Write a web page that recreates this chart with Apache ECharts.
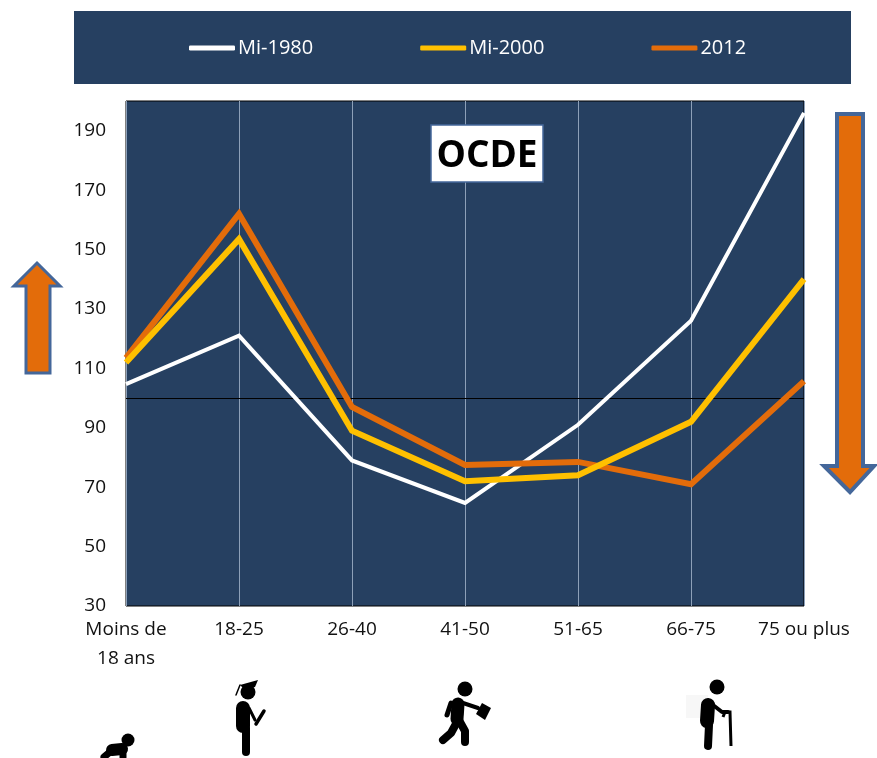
<!DOCTYPE html>
<html><head><meta charset="utf-8">
<style>html,body{margin:0;padding:0;background:#fff}#c{width:877px;height:758px}</style>
<script src="https://cdn.jsdelivr.net/npm/echarts@6/dist/echarts.min.js"></script>
</head><body><div id="c"></div>
<script>
const categories = ['Moins de\n18 ans','18-25','26-40','41-50','51-65','66-75','75 ou plus'];
const mi1980 = [104.7,121,79,64.7,91,126,196];
const mi2000 = [112,153.5,89,72,74,92,140];
const y2012 = [113.5,162,97,77.5,78.5,71,105.7];
const referenceLevel = 100;
const NAVY='#264061', ORANGE='#E36C0A', YELLOW='#FFC000', FONT='"Open Sans", sans-serif', EDGE='#44679A';
const stroke=(points,w)=>({type:'polyline',shape:{points},style:{stroke:'#000',lineWidth:w,lineCap:'round',lineJoin:'round',fill:null},z:5});
const dot=(cx,cy,r)=>({type:'circle',shape:{cx,cy,r},style:{fill:'#000'},z:5});
const poly=(points)=>({type:'polygon',shape:{points},style:{fill:'#000'},z:5});
const chart=echarts.init(document.getElementById('c'),null,{renderer:'canvas'});
chart.setOption({
  animation:false,
  backgroundColor:'#fff',
  legend:{left:184,top:33,itemWidth:46,itemHeight:5,itemGap:107,icon:'roundRect',
    textStyle:{color:'#fff',fontFamily:FONT,fontSize:20,padding:[0,0,0,-2]},
    data:['Mi-1980','Mi-2000','2012']},
  grid:{left:126,right:73,top:101,bottom:152,show:true,backgroundColor:NAVY,borderColor:'#000',borderWidth:1},
  xAxis:{type:'category',boundaryGap:false,data:categories,
    axisLine:{show:false},axisTick:{show:false},
    axisLabel:{color:'#111',fontFamily:FONT,fontSize:19,margin:9,lineHeight:29,interval:0,showMinLabel:true,showMaxLabel:true},
    splitLine:{show:true,lineStyle:{color:'#8da0b8',width:1}}},
  yAxis:{type:'value',min:30,max:200,interval:20,
    axisLine:{show:false},axisTick:{show:false},
    axisLabel:{color:'#111',fontFamily:FONT,fontSize:19,margin:20,padding:[2,0,0,0],showMaxLabel:false},
    splitLine:{show:false}},
  series:[
    {name:'Mi-1980',type:'line',data:mi1980,symbol:'none',z:3,lineStyle:{color:'#fff',width:4,join:'miter'},itemStyle:{color:'#fff'},
      markLine:{silent:true,symbol:'none',label:{show:false},lineStyle:{color:'#000',width:1,type:'solid'},data:[{yAxis:referenceLevel}],z:2}},
    {name:'Mi-2000',type:'line',data:mi2000,symbol:'none',z:4,lineStyle:{color:YELLOW,width:6,join:'miter'},itemStyle:{color:YELLOW}},
    {name:'2012',type:'line',data:y2012,symbol:'none',z:3,lineStyle:{color:ORANGE,width:6,join:'miter'},itemStyle:{color:ORANGE}}
  ],
  graphic:{elements:[
    {type:'rect',shape:{x:74,y:11,width:777,height:73},style:{fill:NAVY},z:-10,silent:true},
    {type:'rect',shape:{x:431,y:125,width:112,height:57},style:{fill:'#fff',stroke:EDGE,lineWidth:1.5},z:10},
    {type:'text',x:487,y:156,style:{text:'OCDE',fill:'#000',font:'bold 37px '+FONT,align:'center',verticalAlign:'middle'},z:11},
    {type:'polygon',shape:{points:[[37,263],[60,286],[50,286],[50,373],[26,373],[26,286],[14,286]]},style:{fill:ORANGE,stroke:EDGE,lineWidth:3},z:5},
    {type:'polygon',shape:{points:[[837,114],[863,114],[863,466],[874,466],[850,492],[824,466],[837,466]]},style:{fill:ORANGE,stroke:EDGE,lineWidth:4},z:5},
    // baby
    dot(128,740,6.5), stroke([[112,750],[122,749]],12), stroke([[123,750],[123,757]],7), stroke([[110,752],[104,757]],7),
    // graduate
    dot(248,692,7.5), poly([[240,685],[258,680],[255,687],[245,690]]), stroke([[240,685],[236,695]],1.5),
    stroke([[243,708],[243,726]],14), stroke([[246,728],[246,752]],8), stroke([[249,708],[255,720]],3), stroke([[264,711],[256,724]],3.5),
    // walker
    dot(465,689,7.5), stroke([[458,704],[457,719]],13), stroke([[451,703],[447,715]],5), stroke([[463,703],[478,708]],4),
    stroke([[457,722],[451,733],[443,740]],8), stroke([[460,722],[465,731],[465,742]],8),
    poly([[482,703],[491,708],[485,720],[476,714]]),
    // elder
    {type:'rect',shape:{x:686,y:695,width:22,height:23},style:{fill:'#f7f7f7'},z:1},
    dot(717,687,7.5), stroke([[708,705],[707,721]],14), stroke([[709,725],[708,746]],8), stroke([[713,705],[722,712],[728,712]],4),
    {type:'polyline',shape:{points:[[723,717],[725,712],[730,712],[731,746]]},style:{stroke:'#000',lineWidth:3,fill:null},z:5}
  ]}
});
</script></body></html>
